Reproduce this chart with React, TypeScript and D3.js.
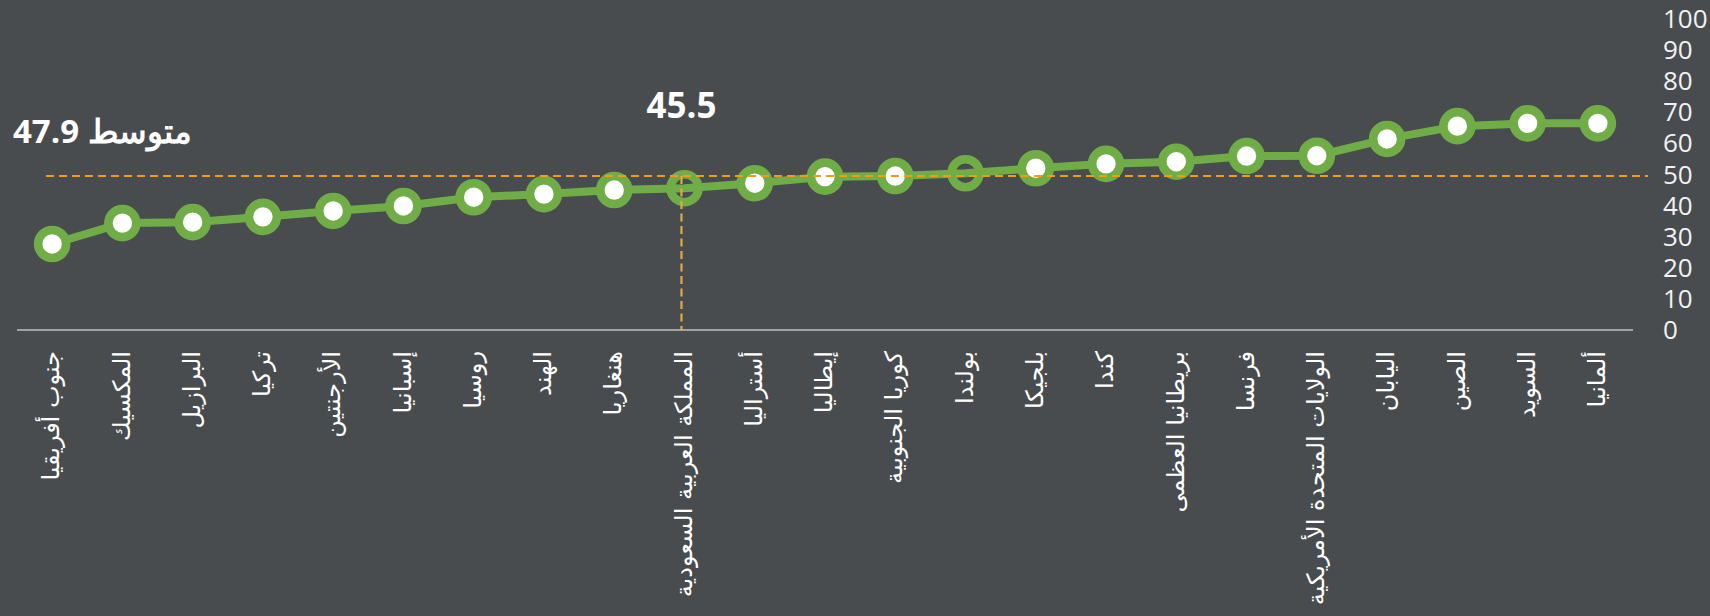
import React, { useEffect, useRef } from 'react'
import * as d3 from 'd3'

const width = 1710
const height = 616

// countries, left to right
const countries = [
  'جنوب أفريقيا', 'المكسيك', 'البرازيل', 'تركيا', 'الأرجنتين', 'إسبانيا',
  'روسيا', 'الهند', 'هنغاريا', 'المملكة العربية السعودية', 'أستراليا', 'إيطاليا',
  'كوريا الجنوبية', 'بولندا', 'بلجيكا', 'كندا', 'بريطانيا العظمى', 'فرنسا',
  'الولايات المتحدة الأمريكية', 'اليابان', 'الصين', 'السويد', 'ألمانيا',
]
const values = [
  27.6, 34.3, 34.6, 36.3, 38.2, 39.8, 42.6, 43.6, 44.9, 45.5, 47.1, 49.2,
  49.4, 50.3, 51.9, 53.3, 54.0, 55.8, 55.9, 61.3, 65.4, 66.3, 66.3,
]
// markers drawn without the white fill
const hollow = ['المملكة العربية السعودية', 'بولندا']

const yTicks = [0, 10, 20, 30, 40, 50, 60, 70, 80, 90, 100]

// reference lines
const avgLine = 49.4
const avgLabel = 'متوسط 47.9'
const highlight = 'المملكة العربية السعودية'
const highlightLabel = '45.5'

const bg = '#494C4E'
const green = '#70AD47'

const App = () => {
  const ref = useRef(null)

  useEffect(() => {
    document.body.style.margin = '0'
    document.body.style.background = bg
    const svg = d3.select(ref.current)
    svg.selectAll('*').remove()

    const x = d3.scalePoint().domain(countries).range([17, 1633]).padding(0.5)
    const y = d3.scaleLinear().domain([0, 100]).range([330, 18.3])

    const data = countries.map((c, i) => ({ c, v: values[i] }))

    svg.append('rect').attr('width', width).attr('height', height).attr('fill', bg)

    // category axis line
    svg.append('line')
      .attr('x1', 17).attr('x2', 1633)
      .attr('y1', y(0)).attr('y2', y(0))
      .attr('stroke', '#BFBFBF').attr('stroke-width', 1.5)

    // value labels on the right
    svg.append('g')
      .selectAll('text')
      .data(yTicks)
      .enter()
      .append('text')
      .attr('x', 1663)
      .attr('y', d => y(d))
      .attr('dy', '0.36em')
      .attr('fill', '#F2F2F2')
      .style('font-family', '"Open Sans", sans-serif')
      .style('font-size', '26px')
      .text(d => d)

    // category labels, turned
    svg.append('g')
      .selectAll('text')
      .data(countries)
      .enter()
      .append('text')
      .attr('transform', d => `translate(${x(d)},351) rotate(-90)`)
      .attr('text-anchor', 'end')
      .attr('dy', '0.3em')
      .attr('fill', '#FFFFFF')
      .style('font-family', '"DejaVu Sans", sans-serif')
      .style('font-size', '24px')
      .text(d => d)

    // series line
    const line = d3.line().x(d => x(d.c)).y(d => y(d.v))
    svg.append('path')
      .datum(data)
      .attr('d', line)
      .attr('fill', 'none')
      .attr('stroke', green)
      .attr('stroke-width', 8)
      .attr('stroke-linejoin', 'round')

    svg.append('g')
      .selectAll('circle')
      .data(data)
      .enter()
      .append('circle')
      .attr('cx', d => x(d.c))
      .attr('cy', d => y(d.v))
      .attr('r', 14)
      .attr('fill', d => (hollow.includes(d.c) ? 'none' : '#FFFFFF'))
      .attr('stroke', green)
      .attr('stroke-width', 8.6)

    // average line
    svg.append('line')
      .attr('x1', 46).attr('x2', 1648)
      .attr('y1', y(avgLine)).attr('y2', y(avgLine))
      .attr('stroke', '#F39C12').attr('stroke-width', 2)
      .attr('stroke-dasharray', '8,5')

    svg.append('line')
      .attr('x1', x(highlight) - 3).attr('x2', x(highlight) - 3)
      .attr('y1', y(avgLine)).attr('y2', y(0))
      .attr('stroke', '#E3AA3A').attr('stroke-width', 2.2)
      .attr('stroke-dasharray', '8,4.5')

    svg.append('text')
      .attr('x', 13).attr('y', 142.5)
      .attr('fill', '#FFFFFF')
      .style('font-family', '"Open Sans", sans-serif')
      .style('font-size', '33px')
      .style('font-weight', 'bold')
      .text(avgLabel)

    svg.append('text')
      .attr('x', x(highlight) - 3).attr('y', 118)
      .attr('text-anchor', 'middle')
      .attr('fill', '#FFFFFF')
      .style('font-family', '"Open Sans", sans-serif')
      .style('font-size', '35px')
      .style('font-weight', 'bold')
      .text(highlightLabel)
  }, [])

  return <svg ref={ref} width={width} height={height} style={{ display: 'block' }}></svg>
}

export default App
